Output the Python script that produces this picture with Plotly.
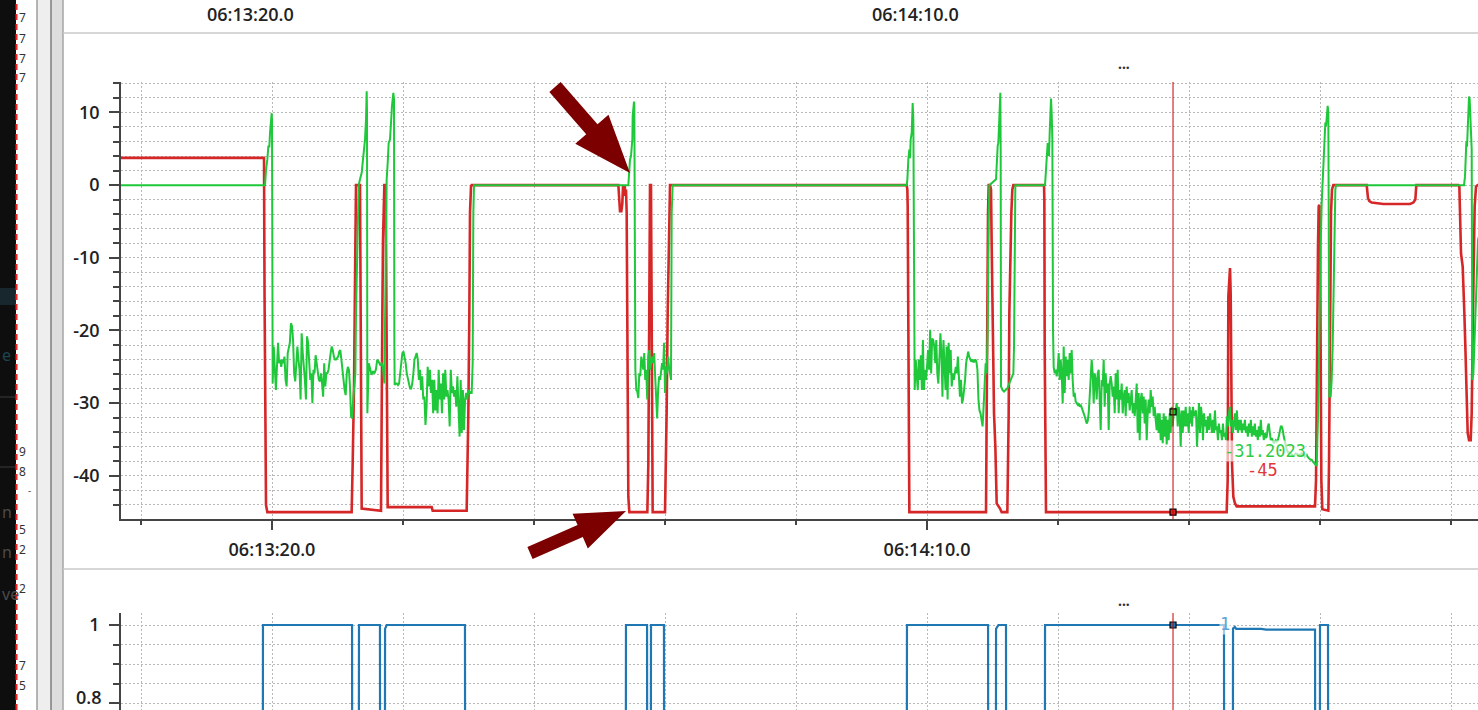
import numpy as np
import plotly.graph_objects as go

# ---------------- data (time = seconds after 06:13:00) ----------------
X_TICK_VALS = [20, 70]
X_TICK_TEXT = ["06:13:20.0", "06:14:10.0"]
Y_TICK_VALS = [-40, -30, -20, -10, 0, 10]
Y_TICK_TEXT = ["-40", "-30", "-20", "-10", "0", "10"]
Y2_TICK_VALS = [0.8, 1.0]
Y2_TICK_TEXT = ["0.8", "1"]
TOP_LABELS = ["06:13:20.0", "06:14:10.0"]

RED_T = [8.4, 19.39, 19.43, 19.466, 19.542, 19.644, 26.08, 26.158, 26.26, 26.362, 26.413, 26.718, 26.743, 26.794, 26.845,
         28.321, 28.372, 28.423, 28.474, 28.525, 28.575, 28.677, 28.728, 28.779, 28.83, 32.188, 32.265,
         34.86, 34.911, 34.988, 35.064, 35.115, 35.191, 35.242,
         46.44, 46.488, 46.565, 46.667, 46.743, 46.794, 46.819, 46.87, 46.921, 46.972, 47.023, 47.074, 47.125, 47.201, 47.277,
         48.651, 48.728, 48.778, 48.855, 48.931, 48.957, 49.008, 49.058, 50.0, 50.051, 50.127, 50.204, 50.28, 50.331, 50.382,
         68.448, 68.499, 68.525, 68.575, 68.626, 68.652, 74.504, 74.555, 74.606, 74.657, 74.708, 74.81, 74.886, 74.937, 75.013,
         75.115, 75.217, 75.319, 75.573, 75.7, 76.132, 76.183, 76.234, 76.285, 76.362, 76.438, 76.514, 76.591,
         78.932, 78.957, 78.983, 79.033, 79.084,
         92.875, 92.952, 93.003, 93.079, 93.13, 93.181, 93.232, 93.283, 93.384, 93.512, 93.639,
         99.618, 99.695, 99.746, 99.796, 99.847, 99.898, 99.949, 100.0, 100.051, 100.102, 100.178,
         100.636, 100.687, 100.738, 100.789, 100.84, 100.916, 101.018,
         103.562, 103.613, 103.664, 103.766, 103.944, 104.835, 106.87, 107.125, 107.277, 107.328, 107.354,
         110.56, 110.636, 110.687, 110.764, 110.891, 110.942, 111.018, 111.094, 111.145, 111.196, 111.273, 111.375, 111.502,
         111.578, 111.629, 111.68, 111.731, 111.807, 111.909, 112.036, 112.3]
RED_V = [3.75, 3.75, -15.0, -30.0, -44.0, -45.0, -45.0, -38.3, -27.7, -8.4, 0, 0, -11.2, -36.0, -44.5,
         -44.8, -36.0, -17.6, -7.5, -0.6, 0, 0, -22.2, -42.9, -44.3, -44.3, -44.8,
         -44.8, -40.6, -31.4, -17.6, -3.8, -0.2, 0,
         0, -2.0, -3.6, -3.6, -2.5, -0.2, 0, -1.5, 0, -1.3, -0.6, -3.8, -14.9, -42.9, -45,
         -45, -38.3, -13.0, 0, 0, -8.4, -26.8, -45, -45, -40.6, -31.0, -17.6, -10.3, -0.6, 0,
         0, -0.6, -2.9, -30.5, -33.7, -45, -45, -36.0, -17.6, -3.8, 0, 0, -0.6, -8.4, -17.6,
         -31.4, -36.0, -43.8, -44.5, -45, -45, -40.6, -31.4, -17.6, -8.4, -3.8, -0.6, 0,
         0, -2.0, -22.2, -33.7, -45,
         -45, -40.6, -15.3, -11.6, -11.4, -14.9, -26.8, -38.3, -42.9, -43.8, -44.2,
         -44.2, -40.6, -26.8, -17.6, -8.4, -2.9, -2.7, -6.1, -22.2, -40.6, -44.6,
         -44.8, -38.3, -26.8, -13.0, -3.8, -0.6, 0,
         0, -0.6, -1.8, -2.2, -2.4, -2.6, -2.6, -2.4, -2.0, -0.6, 0,
         0, -0.2, -3.8, -9.4, -11.2, -13.0, -17.6, -22.2, -26.8, -31.4, -34.1, -35.1, -35.1,
         -31.4, -26.8, -17.6, -11.2, -2.9, -0.2, 0, 0]

# green: explicit edges + evenly sampled noisy stretches (start, end, values)
G_EDGE_0_T = [8.4, 19.466, 19.542, 19.593, 19.644, 19.72, 19.797, 19.848, 19.899, 19.975, 20.0, 20.026]
G_EDGE_0_V = [0, 0, 2.1, 2.6, 3.5, 5.3, 5.3, 7.2, 8.1, 9.9, 9.0, -20.0]
G_NOISE_1_SPAN = (20.051, 26.362)
G_NOISE_1 = [-27.3, -22.2, -24.5, -28.2, -25.0, -21.7, -24.5, -24.0, -25.0, -24.0, -24.5, -23.6, -26.8, -27.7, -23.1,
             -22.2, -21.7, -19.0, -19.4, -21.3, -25.9, -27.0, -25.0, -22.2, -24.0, -25.4, -29.5, -20.4, -23.1, -25.9,
             -26.8, -29.5, -20.8, -21.7, -25.0, -26.8, -25.9, -30.0, -25.4, -25.9, -23.4, -24.5, -25.9, -26.8, -27.0,
             -25.9, -27.3, -29.1, -24.5, -27.7, -25.9, -25.9, -25.4, -24.0, -23.1, -22.2, -22.7, -23.6, -24.0, -24.0,
             -23.8, -23.6, -22.9, -22.7, -24.0, -25.9, -26.8, -28.2, -28.9, -25.9, -25.0, -25.4, -27.7, -31.8, -32.1,
             -29.5, -27.7, -25.9]
G_EDGE_1_T = [26.413, 26.514, 26.616, 26.718, 26.845, 26.972, 27.1, 27.176, 27.227, 27.252]
G_EDGE_1_V = [-17.6, -8.4, 0.0, 0.8, 1.7, 4.0, 6.3, 9.0, 12.9, 10.0]
G_NOISE_2_SPAN = (27.278, 28.575)
G_NOISE_2 = [-31.4, -24.5, -25.2, -26.1, -25.6, -25.9, -25.4, -24.0, -24.3, -24.7, -24.5, -25.0, -27.3]
G_EDGE_2_T = [28.626, 28.703, 28.753, 28.83, 28.906, 29.008, 29.084, 29.16, 29.262, 29.313, 29.339]
G_EDGE_2_V = [-17.6, -8.4, 0.8, 3.0, 5.8, 6.3, 9.0, 10.9, 12.7, 11.8, -21.7]
G_NOISE_3_SPAN = (29.364, 35.242)
G_NOISE_3 = [-27.5, -27.3, -27.3, -27.5, -27.3, -25.9, -24.0, -23.1, -22.9, -23.6, -24.5, -25.9, -26.8, -27.5, -28.0,
             -28.0, -27.3, -25.9, -24.0, -23.6, -23.1, -24.0, -26.8, -25.4, -28.2, -26.3, -29.5, -29.1, -33.0, -30.5,
             -25.0, -27.7, -25.4, -28.6, -26.8, -31.4, -26.8, -31.0, -28.2, -31.4, -25.4, -29.5, -27.3, -31.4, -25.9,
             -29.5, -25.4, -29.1, -28.2, -29.5, -33.2, -25.4, -28.6, -27.7, -29.1, -28.2, -30.5, -26.3, -29.5, -34.6,
             -26.8, -34.1, -28.2, -33.7, -29.5, -28.6, -29.5, -28.2, -28.4, -28.6, -28.6]
G_EDGE_3_T = [35.318, 35.369, 35.42, 47.201, 47.226, 47.277, 47.328, 47.404, 47.455, 47.506, 47.532, 47.583, 47.634,
              47.659, 47.684]
G_EDGE_3_V = [-24.5, -3.8, 0, 0, 1.2, 1.7, 3.5, 4.0, 5.8, 6.3, 9.5, 11.3, 11.5, 10.9, -20.8]
G_NOISE_4_SPAN = (47.735, 50.458)
G_NOISE_4 = [-25.4, -28.2, -28.4, -29.3, -25.9, -26.3, -23.6, -24.5, -25.4, -23.1, -26.8, -25.4, -29.5, -23.6, -22.7,
             -25.4, -24.0, -23.6, -24.5, -23.1, -26.3, -28.6, -32.1, -28.2, -26.3, -26.8, -25.0, -24.5, -25.4, -21.7,
             -28.6, -25.0, -25.9, -23.6, -25.0, -25.9, -26.8]
G_EDGE_4_T = [50.509, 50.585, 68.448, 68.499, 68.575, 68.652, 68.703, 68.754, 68.83, 68.881, 68.906, 68.957, 69.008]
G_EDGE_4_V = [-3.8, 0, 0, 0.75, 3.5, 4.9, 3.7, 6.3, 7.2, 9.9, 11.3, 9.0, -21.3]
G_NOISE_5_SPAN = (69.059, 74.555)
G_NOISE_5 = [-28.2, -24.0, -26.8, -28.2, -24.0, -26.8, -23.4, -28.2, -21.3, -28.2, -25.4, -26.8, -25.0, -22.7, -25.4,
             -19.9, -25.9, -21.1, -21.3, -22.2, -24.5, -21.3, -25.9, -27.3, -24.0, -20.4, -23.1, -29.1, -21.3, -25.9,
             -28.2, -22.2, -29.5, -21.7, -25.9, -22.7, -27.7, -25.9, -26.8, -25.9, -25.0, -25.9, -23.6, -26.3, -29.1,
             -26.8, -30.0, -29.5, -28.2, -26.8, -24.5, -23.6, -22.9, -23.6, -24.0, -24.3, -24.0, -24.3, -24.3, -24.0,
             -24.3, -25.4, -29.5, -31.0, -31.4, -32.3, -33.2, -30.5, -26.8, -24.5, -25.9]
G_EDGE_5_T = [74.631, 74.708, 74.759, 75.268, 75.319, 75.395, 75.446, 75.497, 75.548, 75.598, 75.624]
G_EDGE_5_V = [-20.0, -5.0, 0, 0.8, 3.5, 5.4, 5.8, 8.1, 10.9, 12.7, 5.0]
G_NOISE_6_SPAN = (75.649, 76.591)
G_NOISE_6 = [-27.7, -28.2, -28.4, -28.2, -28.0, -27.5, -27.0, -26.6, -25.9]
G_EDGE_6_T = [76.642, 76.692, 76.743, 79.008, 79.059, 79.135, 79.212, 79.262, 79.313, 79.364, 79.415, 79.466, 79.517,
              79.568, 79.618]
G_EDGE_6_V = [-22.2, -0.6, 0, 0, 1.2, 3.0, 5.8, 4.7, 4.0, 7.2, 9.9, 11.9, 9.9, 6.3, -19.9]
G_NOISE_7_SPAN = (79.669, 90.052)
G_NOISE_7 = [-25.0, -25.9, -25.4, -26.3, -25.4, -23.1, -26.8, -24.0, -25.9, -30.0, -22.2, -28.6, -23.6, -26.3, -24.0,
             -26.8, -23.1, -25.9, -22.7, -26.8, -29.1, -28.6, -29.8, -30.0, -30.2, -30.0, -30.5, -30.2, -30.7, -31.0,
             -31.4, -31.8, -32.5, -32.8, -32.5, -31.4, -29.1, -26.8, -24.0, -25.9, -30.0, -25.9, -26.8, -29.5, -25.9,
             -25.4, -31.4, -33.7, -26.8, -27.7, -24.0, -30.5, -25.9, -28.6, -27.3, -33.7, -27.3, -26.3, -27.3, -29.1,
             -27.7, -31.4, -25.9, -29.5, -25.4, -31.4, -28.2, -29.5, -27.3, -31.4, -29.1, -28.2, -31.8, -27.7, -30.0,
             -28.6, -31.0, -29.5, -28.2, -31.4, -30.0, -31.8, -29.5, -27.3, -34.1, -28.6, -35.1, -29.5, -28.6, -31.4,
             -29.1, -32.8, -29.5, -35.1, -31.4, -29.5, -31.4, -28.2, -30.5, -29.1, -31.8, -30.5, -32.3, -33.7, -31.4,
             -34.1, -31.4, -35.1, -32.3, -35.5, -31.4, -34.6, -31.8, -35.7, -32.3, -35.1, -31.4, -34.1, -30.5, -33.2,
             -31.2, -31.4, -31.0, -30.0, -33.2, -30.5, -31.8, -36.0, -31.0, -34.1, -31.0, -33.2, -30.5, -33.2, -31.4,
             -34.1, -30.5]
G_NOISE_8_SPAN = (90.076, 99.746)
G_NOISE_8 = [-32.8, -31.0, -33.2, -30.5, -31.8, -31.4, -31.0, -36.0, -31.4, -30.0, -34.1, -30.5, -31.8, -35.1, -31.4,
             -33.2, -32.3, -34.1, -31.8, -33.7, -31.4, -33.2, -34.1, -32.3, -34.1, -31.0, -33.7, -33.2, -35.1, -32.8,
             -34.1, -33.7, -35.1, -32.8, -34.6, -34.1, -35.1, -31.8, -33.2, -31.4, -30.5, -33.2, -32.3, -34.1, -32.8,
             -31.4, -33.7, -31.0, -34.1, -32.3, -33.7, -32.3, -34.1, -32.8, -33.7, -32.3, -34.1, -33.2, -34.6, -32.8,
             -34.1, -32.3, -34.6, -33.2, -34.4, -32.8, -34.6, -33.7, -35.1, -33.2, -34.6, -32.3, -34.4, -33.7, -35.1,
             -34.1, -34.8, -34.6, -33.2, -32.8, -34.1, -35.1, -34.8, -35.1, -35.5, -35.3, -35.1, -35.3, -35.1, -34.6,
             -33.9, -33.2, -33.2, -33.7, -34.6, -35.3, -36.0, -36.4, -36.7, -36.9, -36.8, -36.9, -37.1, -37.1, -37.3,
             -37.1, -36.9, -37.0, -37.1, -37.1, -37.1, -37.1, -36.9, -37.0, -37.1, -37.4, -37.3, -37.1, -37.4, -37.6,
             -37.7, -37.8, -37.8, -38.0, -38.2, -38.3, -38.5, -38.6]
G_EDGE_7_T = [99.796, 99.847, 99.898, 99.949, 100.0, 100.051, 100.127, 100.204, 100.255, 100.306, 100.356, 100.407,
              100.458, 100.509, 100.585, 100.636, 100.662, 100.712, 100.814, 100.89, 100.967, 101.018, 101.094, 101.171,
              101.221, 110.992, 111.069, 111.12, 111.171, 111.222, 111.273, 111.324, 111.375, 111.425, 111.476, 111.527,
              111.578, 111.629, 111.705, 111.782, 111.858, 111.909, 111.96, 112.011, 112.062, 112.3]
G_EDGE_7_V = [-36.0, -31.8, -26.8, -17.6, -13.0, -8.4, -2.5, 0.8, 2.6, 5.8, 7.2, 8.6, 8.1, 9.5, 10.9, 9.9, 0.8, -29.1,
              -29.1, -26.8, -22.2, -15.8, -3.8, -0.6, 0, 0, 1.2, 3.5, 6.0, 5.3, 8.1, 10.4, 12.2, 11.8, 9.9, 6.3, 4.9,
              -26.8, -25.9, -22.2, -17.6, -17.2, -13.0, -8.4, -7.5, -6.0]

BLUE_T = [8.4, 19.28, 19.31, 26.11, 26.14, 26.61, 26.64, 28.24, 28.27, 28.6, 28.63, 28.75, 34.73, 34.76, 46.99, 47.02,
          48.63, 48.66, 48.9, 48.93, 49.92, 49.95, 68.44, 68.47, 74.66, 74.69, 75.24, 75.27, 75.45, 76.03, 76.06, 78.98,
          79.01, 92.67, 92.7, 93.33, 93.36, 93.5, 93.6, 95.5, 95.9, 99.62, 99.65, 99.97, 100.0, 100.61, 100.64, 112.3]
BLUE_V = [0, 0, 1, 1, 0, 0, 1, 1, 0, 0, 0.99, 1, 1, 0, 0, 1, 1, 0, 0, 1, 1, 0, 0, 1, 1, 0, 0, 0.99, 1, 1, 0, 0, 1, 1,
          0, 0, 0.991, 0.995, 0.99, 0.99, 0.988, 0.988, 0, 0, 1, 1, 0, 0]

CURSOR_T = 88.78
CURSOR_GREEN = -31.2023
CURSOR_RED = -45
CURSOR_BLUE = 1
CURSOR_LABELS = ["-31.2023", "-45", "1"]
LEFT_DIGITS = ["7", "7", "7", "7", "9", "8", "5", "2", "2", "7", "5"]

# ---------------- assemble green series ----------------
def sampled(span, vals):
    return list(np.linspace(span[0], span[1], len(vals))), list(vals)

green_parts = [
    (G_EDGE_0_T, G_EDGE_0_V), sampled(G_NOISE_1_SPAN, G_NOISE_1),
    (G_EDGE_1_T, G_EDGE_1_V), sampled(G_NOISE_2_SPAN, G_NOISE_2),
    (G_EDGE_2_T, G_EDGE_2_V), sampled(G_NOISE_3_SPAN, G_NOISE_3),
    (G_EDGE_3_T, G_EDGE_3_V), sampled(G_NOISE_4_SPAN, G_NOISE_4),
    (G_EDGE_4_T, G_EDGE_4_V), sampled(G_NOISE_5_SPAN, G_NOISE_5),
    (G_EDGE_5_T, G_EDGE_5_V), sampled(G_NOISE_6_SPAN, G_NOISE_6),
    (G_EDGE_6_T, G_EDGE_6_V), sampled(G_NOISE_7_SPAN, G_NOISE_7),
    sampled(G_NOISE_8_SPAN, G_NOISE_8), (G_EDGE_7_T, G_EDGE_7_V),
]
green_t, green_v = [], []
for t, v in green_parts:
    green_t += list(t)
    green_v += list(v)

n = min(len(RED_T), len(RED_V))
red_t, red_v = RED_T[:n], RED_V[:n]
nb = min(len(BLUE_T), len(BLUE_V))

# ---------------- layout geometry (pixels of the 1478x710 page) ----------------
W, H = 1478, 710
def px(x):
    return x / W
def py(y):
    return 1 - y / H

X_RANGE = [8.473, 112.06]
GREEN_C = "#1fc83a"
RED_C = "#d62728"
BLUE_C = "#1f77b4"
GRID_C = "#b8b8b8"
AX_C = "#444444"
TICK_FONT = dict(family="Open Sans", size=18, color="#222222", weight=600)

fig = go.Figure()
fig.add_trace(go.Scatter(x=red_t, y=red_v, mode="lines", line=dict(color=RED_C, width=2.6), xaxis="x", yaxis="y"))
fig.add_trace(go.Scatter(x=green_t, y=green_v, mode="lines", line=dict(color=GREEN_C, width=2.0), xaxis="x", yaxis="y"))
fig.add_trace(go.Scatter(x=BLUE_T[:nb], y=BLUE_V[:nb], mode="lines", line=dict(color=BLUE_C, width=2.2),
                         xaxis="x2", yaxis="y2"))
fig.add_trace(go.Scatter(x=[CURSOR_T], y=[CURSOR_GREEN], mode="markers", xaxis="x", yaxis="y",
                         marker=dict(symbol="square", size=6, color=GREEN_C, line=dict(color="black", width=1.2))))
fig.add_trace(go.Scatter(x=[CURSOR_T], y=[CURSOR_RED], mode="markers", xaxis="x", yaxis="y",
                         marker=dict(symbol="square", size=6, color=RED_C, line=dict(color="black", width=1.2))))
fig.add_trace(go.Scatter(x=[CURSOR_T], y=[CURSOR_BLUE], mode="markers", xaxis="x2", yaxis="y2",
                         marker=dict(symbol="square", size=6, color=BLUE_C, line=dict(color="black", width=1.2))))

grid = dict(showgrid=True, gridcolor=GRID_C, griddash="2px,2px", gridwidth=1)
fig.update_layout(
    width=W, height=H, margin=dict(l=0, r=0, t=0, b=0),
    paper_bgcolor="white", plot_bgcolor="white", showlegend=False, template="none",
    xaxis=dict(domain=[px(121), 1], anchor="y", range=X_RANGE, tickmode="array", tickvals=X_TICK_VALS,
               ticktext=X_TICK_TEXT, ticks="outside", ticklen=9, tickwidth=1.5, tickcolor=AX_C,
               showline=True, linecolor=AX_C, linewidth=1.5, zeroline=False, tickfont=TICK_FONT,
               ticklabelstandoff=5,
               minor=dict(tick0=0, dtick=10, ticks="outside", ticklen=4, tickwidth=1.5, tickcolor=AX_C, **grid),
               **grid),
    yaxis=dict(domain=[py(519), py(82)], anchor="x", range=[-45.94, 14.19], tickmode="array",
               tickvals=Y_TICK_VALS, ticktext=Y_TICK_TEXT, ticks="outside", ticklen=10, tickwidth=1.5,
               tickcolor=AX_C, showline=True, linecolor=AX_C, linewidth=1.5, zeroline=False, tickfont=TICK_FONT,
               ticklabelstandoff=6,
               minor=dict(tick0=0, dtick=2, ticks="outside", ticklen=6, tickwidth=1.5, tickcolor=AX_C, **grid),
               **grid),
    xaxis2=dict(domain=[px(121), 1], anchor="y2", range=X_RANGE, tickmode="array", tickvals=X_TICK_VALS,
                showticklabels=False, ticks="", showline=False, zeroline=False,
                minor=dict(tick0=0, dtick=10, ticks="", **grid), **grid),
    # lower panel: the "1" label comes from the axis, "0.8" (at the page edge) is placed as a note below
    yaxis2=dict(domain=[0, py(613)], anchor="x2", range=[0.7829, 1.0307], tickmode="array",
                tickvals=Y2_TICK_VALS, ticktext=[Y2_TICK_TEXT[0] and "", Y2_TICK_TEXT[1]], ticks="outside",
                ticklen=10, tickwidth=1.5,
                tickcolor=AX_C, showline=True, linecolor=AX_C, linewidth=1.5, zeroline=False, tickfont=TICK_FONT,
                ticklabelstandoff=6,
                minor=dict(tick0=0, dtick=0.05, ticks="outside", ticklen=6, tickwidth=1.5, tickcolor=AX_C, **grid),
                **grid),
)

shapes = []
# left dark strip of neighbouring window
shapes.append(dict(type="rect", xref="paper", yref="paper", x0=0, x1=px(16), y0=0, y1=1,
                   fillcolor="#0e0e0e", line=dict(width=0), layer="above"))
shapes.append(dict(type="rect", xref="paper", yref="paper", x0=0, x1=px(16), y0=py(305), y1=py(288),
                   fillcolor="#18272e", line=dict(width=0), layer="above"))
for yy in (397, 467):
    shapes.append(dict(type="line", xref="paper", yref="paper", x0=0, x1=px(16), y0=py(yy), y1=py(yy),
                       line=dict(color="#3a3a3a", width=1), layer="above"))
shapes.append(dict(type="line", xref="paper", yref="paper", x0=px(16.5), x1=px(16.5), y0=0, y1=1,
                   line=dict(color="#ff1f1f", width=2, dash="6px,4px"), layer="above"))
# splitter bands
shapes.append(dict(type="rect", xref="paper", yref="paper", x0=px(37), x1=px(51), y0=0, y1=1,
                   fillcolor="#eeeeee", line=dict(width=0), layer="above"))
shapes.append(dict(type="rect", xref="paper", yref="paper", x0=px(51), x1=px(63), y0=0, y1=1,
                   fillcolor="#dddddd", line=dict(width=0), layer="above"))
for xx, c in ((37, "#9c9c9c"), (51, "#7c7c7c"), (63, "#a4a4a4")):
    shapes.append(dict(type="line", xref="paper", yref="paper", x0=px(xx), x1=px(xx), y0=0, y1=1,
                       line=dict(color=c, width=1.5), layer="above"))
for yy in (33, 569):
    shapes.append(dict(type="line", xref="paper", yref="paper", x0=px(63), x1=1, y0=py(yy), y1=py(yy),
                       line=dict(color="#c8c8c8", width=1.5), layer="above"))
# cursor lines
shapes.append(dict(type="line", xref="x", yref="y domain", x0=CURSOR_T, x1=CURSOR_T, y0=0, y1=1,
                   line=dict(color="#cc0000", width=1), layer="above"))
shapes.append(dict(type="line", xref="x2", yref="y2 domain", x0=CURSOR_T, x1=CURSOR_T, y0=0, y1=1,
                   line=dict(color="#cc0000", width=1), layer="above"))

# annotation arrows (polygons)
def arrow_path(tail, tip, w, head_len, head_w):
    tx, ty = tail
    hx, hy = tip
    d = np.array([hx - tx, hy - ty], dtype=float)
    d /= np.linalg.norm(d)
    nrm = np.array([-d[1], d[0]])
    base = np.array([hx, hy]) - head_len * d
    t0 = np.array([tx, ty])
    pts = [t0 + w * nrm, base + w * nrm, base + head_w * nrm, np.array([hx, hy]),
           base - head_w * nrm, base - w * nrm, t0 - w * nrm]
    return "M " + " L ".join(f"{px(p[0]):.5f},{py(p[1]):.5f}" for p in pts) + " Z"

for tail, tip, w, hl, hw in (((555, 87), (630, 173), 7.5, 58, 22), ((530, 553), (626, 511), 6.5, 50, 19)):
    shapes.append(dict(type="path", xref="paper", yref="paper", path=arrow_path(tail, tip, w, hl, hw),
                       fillcolor="#7d0000", line=dict(width=0), layer="above"))
fig.update_layout(shapes=shapes)

ann = []
mono = "DejaVu Sans Mono"
def note(x, y, text, font, **kw):
    base = dict(xref="paper", yref="paper", x=px(x), y=py(y), text=text, showarrow=False,
                xanchor="center", yanchor="middle", font=font)
    base.update(kw)
    ann.append(base)

note(1265, 451, CURSOR_LABELS[0], dict(family=mono, size=17, color="#2fcc45"),
     bgcolor="rgba(255,255,255,0.65)", borderpad=0)
note(1262, 470, CURSOR_LABELS[1], dict(family=mono, size=17, color="#e0393c"),
     bgcolor="rgba(255,255,255,0.65)", borderpad=0)
note(1225, 624, CURSOR_LABELS[2], dict(family=mono, size=17, color="#5fa3d6"),
     bgcolor="rgba(255,255,255,0.6)", borderpad=0)
for yy in (64, 600):
    note(1124, yy, "...", dict(family="Noto Sans", size=14, color="#333333", weight=700))
for xx, lab in zip((250, 915), TOP_LABELS):
    note(xx, 14, lab, TICK_FONT)
# "0.8" tick label of the lower panel, kept just inside the page
note(103, 710, Y2_TICK_TEXT[0], TICK_FONT, xanchor="right", yanchor="bottom", borderpad=0)
for yy, d in zip((18, 38, 58, 78, 451, 471, 529, 549, 588, 665, 685), LEFT_DIGITS):
    note(17, yy, d, dict(family="Noto Sans", size=12, color="#333333"), xanchor="left")
note(29, 490, "-", dict(family="Noto Sans", size=10, color="#555555"))
for yy, txt, col in ((355, "e", "#1d4550"), (512, "n", "#4a4a4a"), (552, "n", "#4a4a4a"), (594, "ve", "#4a4a4a")):
    note(0, yy, txt, dict(family="Noto Sans", size=16, color=col), xanchor="left")
fig.update_layout(annotations=ann)

fig.write_html("out.html", config={"displayModeBar": False},
               post_script="document.body.style.margin='0';document.body.style.overflow='hidden';")
